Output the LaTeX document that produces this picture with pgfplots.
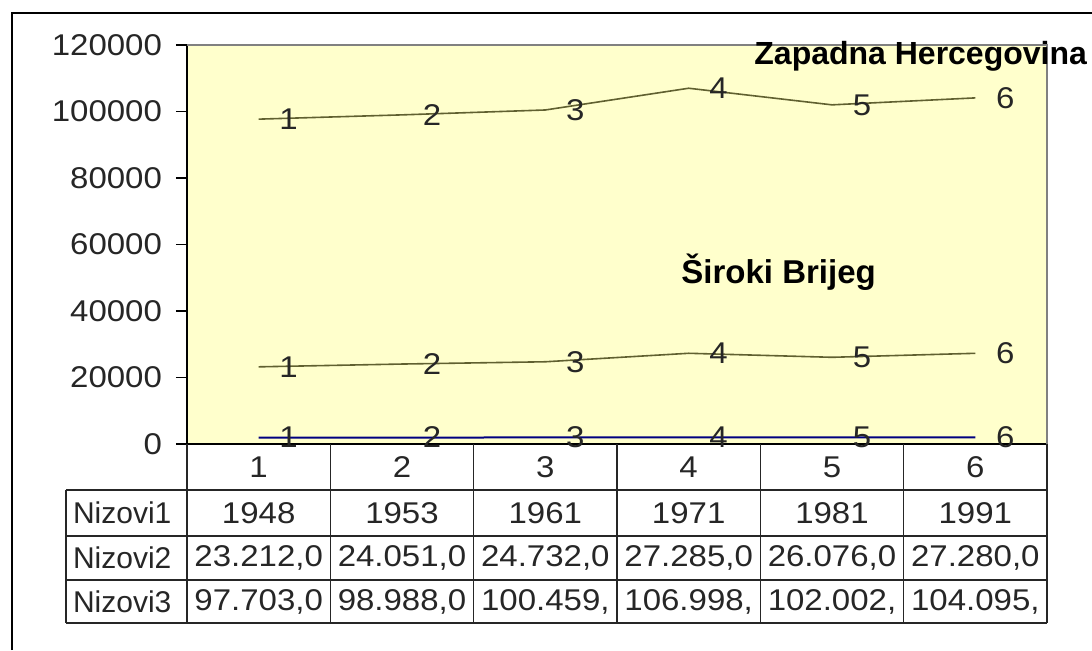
\documentclass[border=0pt]{standalone}
\usepackage{fontspec}
\setmainfont{Liberation Sans}
\newfontfamily\widefont[FakeStretch=1.1]{Liberation Sans}
\usepackage{pgfplots}
\pgfplotsset{compat=1.18}
\definecolor{plotbg}{RGB}{255,255,204}
\definecolor{oliveline}{RGB}{96,96,48}
\definecolor{navyline}{RGB}{0,0,128}

\begin{document}
\begin{tikzpicture}[font=\fontsize{15}{18}\selectfont]
\begin{axis}[
    at={(0,0)}, anchor=south west,
    scale only axis, width=430pt, height=199.5pt,
    xmin=0.5, xmax=6.5, ymin=0, ymax=120000,
    axis background/.style={fill=plotbg},
    axis x line*=bottom, axis y line*=left,
    axis line style={-, black, line width=0.8pt},
    xtick=\empty,
    ytick={0,20000,40000,60000,80000,100000,120000},
    scaled y ticks=false,
    tick align=outside, major tick length=5.5pt,
    tick style={black, line width=0.8pt},
    /pgf/number format/fixed,
    /pgf/number format/precision=0,
    /pgf/number format/1000 sep={},
    /pgf/number format/assume math mode=true,
    yticklabel style={font=\fontsize{15}{18}\selectfont\widefont, color=black!85, xshift=-3.5pt},
    nodes near coords, point meta=explicit symbolic,
    every node near coord/.append style={anchor=center, xshift=15pt,
        font=\fontsize{15}{18}\selectfont\widefont, color=black!85},
    clip=false,
]
    % Nizovi1
    \addplot[navyline, line width=1pt, mark=none] coordinates {
        (1,1948) [1] (2,1953) [2] (3,1961) [3] (4,1971) [4] (5,1981) [5] (6,1991) [6]};
    % Nizovi2 (Siroki Brijeg)
    \addplot[oliveline, line width=0.8pt, mark=none] coordinates {
        (1,23212) [1] (2,24051) [2] (3,24732) [3] (4,27285) [4] (5,26076) [5] (6,27280) [6]};
    % Nizovi3 (Zapadna Hercegovina)
    \addplot[oliveline, line width=0.8pt, mark=none] coordinates {
        (1,97703) [1] (2,98988) [2] (3,100459) [3] (4,106998) [4] (5,102002) [5] (6,104095) [6]};
\end{axis}

% pixel grid of the reference: (187,444) is the plot's lower left corner
\begin{scope}[x=0.5pt, y=-0.5pt, shift={(-93.5pt,222pt)}]
    % gray top and right border of the plot area
    \draw[gray, line width=0.8pt] (187,45) -- (1047,45) -- (1047,444);
    % data table
    \begin{scope}[line width=0.7pt, black!85]
        \foreach \yy in {490,536,580,623} \draw (66,\yy) -- (1047,\yy);
        \draw (66,490) -- (66,623);
        \foreach \xx in {187,330.33,473.67,617,760.33,903.67,1047}
            \draw (\xx,444) -- (\xx,623);
    \end{scope}
    \begin{scope}[every node/.style={black!85, font=\fontsize{15}{18}\selectfont\widefont}]
    \foreach \i in {1,...,6}
        \node at ({187+143.33*(\i-0.5)},467) {\i};
    \foreach \v [count=\i] in {1948,1953,1961,1971,1981,1991}
        \node at ({187+143.33*(\i-0.5)},513) {\v};
    \foreach \v [count=\i] in {23.212{,}0,24.051{,}0,24.732{,}0,27.285{,}0,26.076{,}0,27.280{,}0}
        \node at ({187+143.33*(\i-0.5)},558) {\v};
    \foreach \v [count=\i] in {97.703{,}0,98.988{,}0,100.459{,},106.998{,},102.002{,},104.095{,}}
        \node at ({187+143.33*(\i-0.5)},602) {\v};
    \end{scope}
    \node[anchor=west, black!85] at (66,513) {Nizovi1};
    \node[anchor=west, black!85] at (66,558) {Nizovi2};
    \node[anchor=west, black!85] at (66,602) {Nizovi3};
    % series titles
    \node[anchor=west, inner sep=0pt, font=\fontsize{16}{19}\selectfont\bfseries] at (754,56) {Zapadna Hercegovina};
    \node[anchor=west, inner sep=0pt, font=\fontsize{16.5}{19}\selectfont\bfseries] at (681,272) {Široki Brijeg};
    % outer chart frame
    \draw[black, line width=1pt] (12,650) -- (12,13) -- (1092,13);
    \pgfresetboundingbox
    \path[use as bounding box] (0,0) rectangle (1092,650);
\end{scope}
\end{tikzpicture}
\end{document}
